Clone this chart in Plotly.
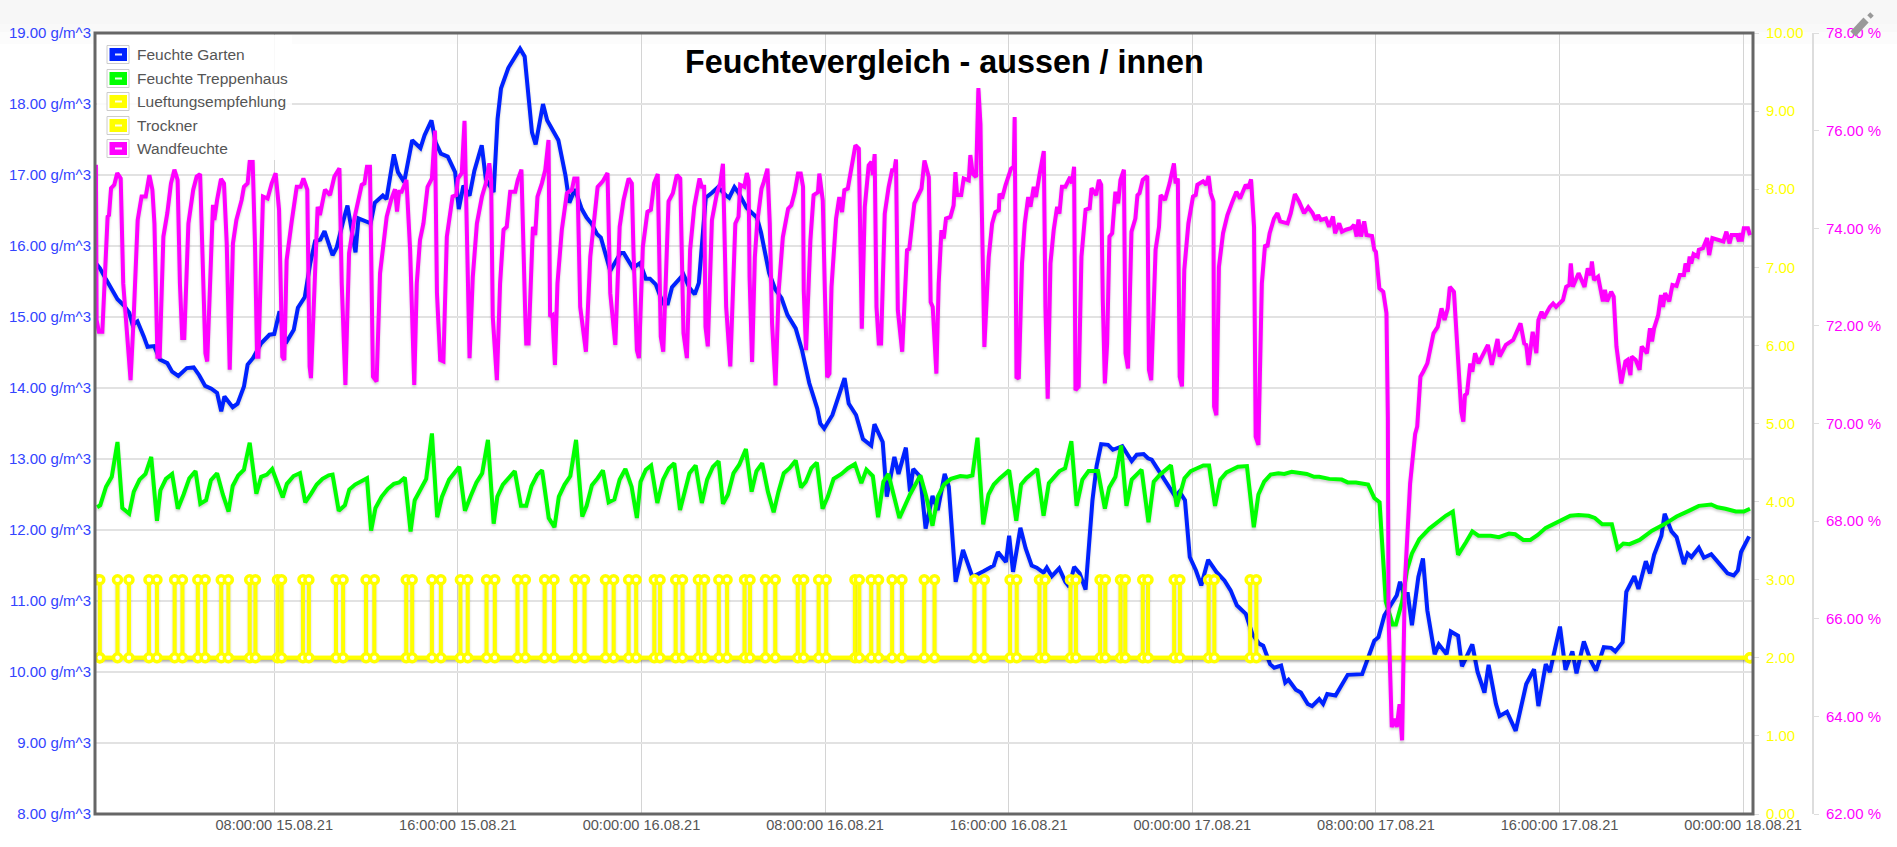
import pandas as pd
import plotly.graph_objects as go

# readings as (hours since 15.08.21 00:00, value)
garten = [(0.22,15.76),(0.4,15.69),(0.67,15.53),(0.88,15.42),(1.17,15.25),(1.43,15.17),(1.68,15.06),(1.83,14.89),(2.04,14.94),(2.31,14.73),(2.48,14.58),(2.77,14.59),(3.02,14.4),(3.34,14.35),(3.55,14.23),(3.82,14.17),(4.19,14.28),(4.49,14.29),(4.73,14.18),(4.99,14.03),(5.26,13.99),(5.51,13.93),(5.69,13.67),(5.83,13.88),(6.19,13.73),(6.4,13.78),(6.68,14.02),(6.84,14.33),(7.07,14.42),(7.43,14.63),(7.79,14.75),(8.0,14.76),(8.23,15.08),(8.5,14.63),(8.85,14.82),(9.03,15.13),(9.33,15.28),(9.57,15.76),(9.78,16.07),(10.01,16.09),(10.19,16.21),(10.54,15.87),(10.72,15.98),(10.99,16.33),(11.19,16.57),(11.54,15.91),(11.67,16.39),(12.2,16.32),(12.38,16.61),(12.73,16.71),(12.89,16.66),(13.21,17.29),(13.39,17.04),(13.66,16.9),(14.01,17.49),(14.37,17.38),(14.55,17.56),(14.85,17.77),(15.03,17.46),(15.26,17.3),(15.56,17.26),(15.88,17.04),(16.04,16.52),(16.24,16.85),(16.51,16.71),(16.72,17.06),(17.04,17.42),(17.22,16.94),(17.56,16.76),(17.73,17.79),(17.88,18.22),(18.2,18.51),(18.71,18.78),(18.91,18.67),(19.23,17.6),(19.39,17.43),(19.71,18.0),(19.89,17.77),(20.38,17.49),(20.69,16.99),(20.86,16.61),(21.1,16.8),(21.4,16.52),(21.61,16.4),(21.84,16.31),(22.06,16.17),(22.23,16.12),(22.64,15.65),(23.09,15.9),(23.23,15.9),(23.62,15.69),(23.94,15.76),
(24.05,15.65),(24.19,15.54),(24.37,15.54),(24.62,15.46),(24.94,15.19),(25.15,15.19),(25.33,15.42),(25.83,15.6),(26.09,15.41),(26.32,15.32),(26.5,15.48),(26.8,16.68),(27.07,16.75),(27.34,16.83),(27.69,16.71),(27.82,16.68),(28.05,16.83),(28.23,16.75),(28.58,16.54),(29.03,16.4),(29.21,16.19),(29.56,15.62),(29.83,15.39),(30.1,15.27),(30.36,15.03),(30.72,14.84),(30.99,14.54),(31.31,14.07),(31.66,13.71),(31.79,13.5),(31.96,13.43),(32.32,13.62),(32.85,14.14),(33.03,13.78),(33.35,13.62),(33.65,13.28),(34.01,13.19),(34.15,13.49),(34.51,13.24),(34.69,12.47),(35.02,13.03),(35.2,12.79),(35.52,13.16),(35.7,12.54),(35.84,12.86),(36.15,12.75),(36.38,12.02),(36.68,12.48),(36.91,12.28),(37.21,12.79),(37.39,12.61),(37.57,11.76),(37.69,11.27),(38.01,11.72),(38.42,11.34),(38.9,11.42),(39.35,11.5),(39.53,11.69),(39.88,11.55),(40.02,11.92),(40.19,11.41),(40.51,12.03),(40.74,11.74),(41.0,11.5),(41.22,11.47),(41.52,11.4),(41.66,11.47),(41.88,11.35),(42.2,11.46),(42.47,11.27),(42.64,11.2),(42.85,11.48),(43.09,11.39),(43.35,11.16),(43.65,12.42),(43.83,12.9),(44.03,13.21),(44.33,13.2),(44.54,13.13),(44.95,13.18),(45.13,13.08),(45.36,12.97),(45.58,13.06),(45.88,13.07),(46.07,13.01),(46.23,12.99),(46.55,12.83),(46.91,12.64),(47.26,12.47),(47.44,12.54),(47.68,12.42),(47.89,11.62),(48.16,11.43),(48.39,11.22),(48.69,11.58),(49.05,11.41),(49.4,11.29),(49.67,11.15),(49.94,10.94),(50.33,10.82),(50.61,10.54),(50.91,10.4),(51.09,10.37),(51.39,10.11),(51.57,10.06),(51.87,10.09),(52.05,9.85),(52.19,9.89),(52.51,9.75),(52.73,9.71),(53.03,9.55),(53.22,9.52),(53.53,9.62),(53.7,9.55),(53.88,9.69),(54.24,9.67),(54.77,9.96),(55.4,9.97),(55.61,10.16),(55.93,10.44),(56.11,10.49),(56.37,10.8),(56.91,11.08),(57.05,11.27),(57.21,11.1),(57.39,11.1),(57.57,10.66),(57.85,11.34),(58.05,11.6),(58.24,10.87),(58.56,10.25),(58.74,10.39),(59.08,10.25),(59.26,10.57),(59.58,10.51),(59.75,10.08),(60.2,10.39),(60.43,10.0),(60.73,9.71),(60.91,10.1),(61.23,9.55),(61.39,9.38),(61.71,9.44),(62.09,9.17),(62.55,9.83),(62.89,10.04),(63.08,9.52),(63.4,10.11),(63.58,10.0),(64.02,10.64),(64.26,10.03),(64.56,10.29),(64.74,9.98),(65.06,10.43),(65.36,10.16),(65.59,10.02),(65.93,10.35),(66.25,10.34),(66.43,10.29),(66.75,10.42),(66.91,11.13),(67.26,11.35),(67.44,11.17),(67.76,11.56),(67.94,11.39),(68.12,11.65),(68.44,11.92),(68.58,12.23),(68.88,11.98),(69.1,11.9),(69.42,11.52),(69.58,11.67),(69.75,11.62),(70.07,11.75),(70.29,11.61),(70.61,11.66),(71.14,11.46),(71.32,11.39),(71.59,11.36),(71.77,11.43),(71.91,11.69),(72.09,11.79),(72.26,11.91)]

treppenhaus = [(0.28,12.32),(0.42,12.35),(0.67,12.61),(0.92,12.75),(1.17,13.24),(1.38,12.31),(1.68,12.23),(1.88,12.54),(2.13,12.71),(2.39,12.79),(2.64,13.03),(2.89,12.13),(3.04,12.56),(3.28,12.72),(3.55,12.79),(3.8,12.3),(4.05,12.5),(4.3,12.73),(4.57,12.83),(4.78,12.37),(5.03,12.42),(5.24,12.7),(5.51,12.8),(5.76,12.5),(6.01,12.26),(6.19,12.62),(6.43,12.77),(6.68,12.85),(6.93,13.23),(7.22,12.51),(7.43,12.75),(7.68,12.78),(7.91,12.86),(8.37,12.46),(8.55,12.65),(8.84,12.76),(9.12,12.8),(9.35,12.39),(9.6,12.51),(9.85,12.64),(10.1,12.72),(10.37,12.77),(10.54,12.78),(10.81,12.27),(11.08,12.35),(11.27,12.57),(11.52,12.64),(11.79,12.68),(12.04,12.73),(12.22,11.99),(12.41,12.31),(12.68,12.47),(12.95,12.58),(13.21,12.65),(13.44,12.67),(13.69,12.74),(13.94,11.98),(14.12,12.42),(14.37,12.56),(14.62,12.72),(14.87,13.36),(15.1,12.18),(15.31,12.47),(15.62,12.71),(16.06,12.89),(16.31,12.27),(16.56,12.48),(16.81,12.67),(17.06,12.8),(17.31,13.27),(17.56,12.09),(17.72,12.47),(17.96,12.64),(18.23,12.75),(18.48,12.83),(18.75,12.34),(18.98,12.34),(19.21,12.62),(19.46,12.78),(19.67,12.84),(19.96,12.17),(20.21,12.04),(20.4,12.47),(20.65,12.64),(20.9,12.76),(21.15,13.27),(21.42,12.19),(21.61,12.34),(21.84,12.63),(22.09,12.73),(22.32,12.84),(22.57,12.39),(22.82,12.43),(23.05,12.71),(23.3,12.86),(23.57,12.61),(23.8,12.17),
(23.96,12.68),(24.19,12.85),(24.42,12.91),(24.69,12.38),(24.94,12.71),(25.19,12.87),(25.43,12.94),(25.68,12.28),(26.09,12.8),(26.36,12.91),(26.63,12.38),(26.86,12.71),(27.11,12.89),(27.36,12.97),(27.55,12.37),(27.77,12.5),(28.01,12.8),(28.26,12.92),(28.55,13.14),(28.8,12.54),(29.01,12.83),(29.26,12.94),(29.51,12.54),(29.76,12.25),(29.97,12.54),(30.2,12.8),(30.45,12.87),(30.72,12.98),(30.95,12.6),(31.16,12.68),(31.4,12.87),(31.64,12.95),(31.89,12.3),(32.12,12.47),(32.37,12.72),(32.71,12.79),(33.0,12.87),(33.3,12.93),(33.58,12.66),(33.8,12.85),(34.08,12.76),(34.31,12.18),(34.54,12.68),(34.76,12.79),(35.24,12.17),(35.7,12.5),(36.15,12.77),(36.41,12.47),(36.68,12.06),(36.91,12.47),(37.18,12.64),(37.48,12.72),(37.89,12.76),(38.19,12.75),(38.42,12.77),(38.64,13.3),(38.89,12.08),(39.12,12.5),(39.35,12.64),(39.62,12.73),(40.02,12.84),(40.33,12.13),(40.54,12.64),(40.77,12.73),(41.24,12.86),(41.52,12.2),(41.75,12.66),(41.98,12.75),(42.21,12.83),(42.46,12.87),(42.73,13.25),(42.96,12.34),(43.21,12.71),(43.48,12.83),(43.89,12.83),(44.19,12.3),(44.38,12.6),(44.65,12.75),(44.9,13.19),(45.13,12.34),(45.36,12.71),(45.79,12.85),(46.09,12.11),(46.32,12.68),(46.59,12.78),(47.07,12.91),(47.32,12.33),(47.66,12.73),(47.93,12.83),(48.21,12.87),(48.48,12.91),(48.73,12.91),(48.99,12.34),(49.22,12.71),(49.49,12.81),(49.99,12.89),(50.38,12.9),(50.68,12.04),(50.88,12.5),(51.13,12.68),(51.41,12.78),
(51.75,12.8),(52.01,12.79),(52.33,12.82),(52.64,12.8),(52.99,12.79),(53.31,12.75),(53.53,12.75),(53.97,12.72),(54.51,12.71),(54.77,12.67),(55.13,12.67),(55.66,12.64),(55.93,12.45),(56.16,12.39),(56.43,10.99),(56.73,10.67),(56.87,10.67),(57.14,10.99),(57.35,11.43),(57.57,11.67),(57.89,11.87),(58.33,12.02),(58.69,12.12),(59.04,12.2),(59.35,12.26),(59.58,11.65),(59.93,11.83),(60.2,11.98),(60.47,11.92),(61.0,11.92),(61.36,11.9),(61.8,11.95),(62.07,11.94),(62.42,11.86),(62.73,11.86),(63.05,11.93),(63.4,12.03),(63.67,12.07),(64.02,12.13),(64.47,12.2),(64.83,12.21),(65.27,12.2),(65.54,12.17),(65.86,12.08),(66.28,12.08),(66.53,11.74),(66.78,11.81),(67.05,11.8),(67.49,11.86),(68.03,11.99),(68.56,12.08),(69.1,12.19),(69.63,12.27),(70.07,12.34),(70.61,12.36),(70.88,12.32),(71.23,12.3),(71.68,12.26),(72.03,12.26),(72.3,12.3)]

wandfeuchte = [(0.23,75.3),(0.26,72.12),(0.36,71.88),(0.51,71.88),(0.74,74.24),(0.8,74.27),(0.89,74.82),(1.03,74.89),(1.16,75.13),(1.31,75.02),(1.42,72.87),(1.61,71.64),(1.74,70.89),(1.87,72.12),(2.05,74.17),(2.22,74.65),(2.4,74.65),(2.56,75.09),(2.69,74.79),(2.78,74.1),(2.91,71.37),(3.01,71.37),(3.17,73.83),(3.34,74.31),(3.5,74.92),(3.65,75.2),(3.79,74.99),(3.89,72.87),(3.99,71.75),(4.08,71.75),(4.26,74.1),(4.47,74.79),(4.62,75.06),(4.77,75.11),(4.87,73.56),(5.0,71.44),(5.08,71.27),(5.24,73.56),(5.33,74.48),(5.39,74.17),(5.51,74.58),(5.68,75.01),(5.81,74.92),(5.93,73.69),(6.06,71.1),(6.2,73.69),(6.35,74.17),(6.58,74.58),(6.68,74.85),(6.84,74.92),(6.93,75.37),(7.06,75.37),(7.16,73.69),(7.25,71.37),(7.31,71.37),(7.51,74.65),(7.71,74.61),(7.89,74.92),(8.06,75.13),(8.21,74.38),(8.35,71.37),(8.44,71.3),(8.54,73.35),(8.76,74.14),(8.98,74.85),(9.15,74.85),(9.27,75.02),(9.44,74.79),(9.54,71.17),(9.6,70.93),(9.78,73.49),(9.89,74.44),(9.99,74.27),(10.21,74.79),(10.43,74.68),(10.62,75.06),(10.84,75.23),(10.94,72.87),(11.1,70.79),(11.26,73.49),(11.49,74.2),(11.66,74.58),(11.81,74.89),(11.93,74.92),(12.04,75.26),(12.17,75.26),(12.3,70.96),(12.46,70.86),(12.61,73.08),(12.9,74.24),(13.09,74.58),(13.26,74.8),(13.35,74.34),(13.44,74.75),(13.55,74.75),(13.76,74.99),(13.92,73.56),(14.1,70.79),(14.21,72.87),(14.35,73.76),(14.5,74.1),
(14.68,74.85),(14.87,75.02),(15.0,76.0),(15.09,72.67),(15.23,71.3),(15.37,71.27),(15.52,73.83),(15.67,74.31),(15.77,74.65),(15.93,74.68),(16.0,75.02),(16.17,75.13),(16.29,76.2),(16.51,71.34),(16.65,73.0),(16.83,74.1),(17.05,74.65),(17.22,74.92),(17.37,75.33),(17.45,74.99),(17.52,72.19),(17.7,70.89),(17.84,72.87),(17.99,73.97),(18.13,74.03),(18.28,74.75),(18.5,74.75),(18.61,74.99),(18.77,75.2),(18.93,72.33),(18.98,71.64),(19.08,71.64),(19.27,74.03),(19.37,73.86),(19.47,74.65),(19.66,74.92),(19.81,75.2),(19.95,75.81),(20.02,72.19),(20.12,72.22),(20.23,71.2),(20.34,72.87),(20.53,73.97),(20.75,74.72),(20.97,74.79),(21.07,75.02),(21.21,75.02),(21.33,72.39),(21.58,71.47),(21.77,73.42),(21.94,74.24),(22.09,74.85),(22.31,74.96),(22.52,75.13),(22.64,72.67),(22.86,71.61),(23.05,74.03),(23.22,74.58),(23.44,75.02),(23.58,74.92),(23.65,73.56),(23.8,71.5),(23.89,71.34),(24.06,73.62),(24.26,74.34),(24.41,74.38),(24.55,74.92),(24.71,75.11),(24.84,71.78),(24.95,71.47),(25.18,74.55),(25.37,74.72),(25.54,75.09),(25.69,75.02),(25.83,71.85),(25.98,71.34),(26.12,73.56),(26.3,74.44),(26.53,75.02),(26.63,74.85),(26.73,74.85),(26.79,71.98),(26.89,71.58),(27.07,74.17),(27.29,74.72),(27.43,74.92),(27.55,75.32),(27.69,72.39),(27.87,71.17),(28.09,74.1),(28.23,74.24),(28.3,74.89),(28.48,74.85),(28.59,75.13),
(28.67,74.98),(28.71,73.0),(28.82,71.26),(28.94,73.41),(29.04,74.1),(29.23,74.81),(29.33,74.95),(29.49,75.22),(29.59,74.1),(29.69,72.05),(29.84,70.78),(29.98,72.73),(30.16,73.82),(30.39,74.4),(30.53,74.47),(30.68,74.74),(30.82,75.12),(30.94,75.12),(31.04,74.85),(31.07,72.73),(31.17,71.5),(31.36,73.75),(31.5,74.68),(31.69,74.74),(31.75,75.12),(31.9,74.57),(31.99,72.73),(32.09,70.95),(32.19,71.02),(32.28,72.8),(32.48,74.2),(32.62,74.64),(32.74,74.33),(32.84,74.78),(32.99,74.81),(33.18,75.29),(33.32,75.7),(33.47,75.63),(33.54,74.1),(33.6,71.94),(33.73,74.44),(33.9,75.29),(34.02,75.36),(34.08,75.09),(34.16,75.52),(34.24,72.39),(34.34,71.64),(34.44,71.64),(34.6,74.3),(34.77,74.85),(34.92,75.19),(35.02,75.19),(35.09,75.41),(35.17,72.32),(35.36,71.47),(35.57,73.55),(35.67,73.58),(35.89,74.51),(36.2,74.81),(36.33,75.39),(36.52,75.05),(36.6,72.49),(36.69,72.39),(36.85,71.02),(36.95,72.87),(37.07,73.96),(37.17,73.79),(37.27,74.2),(37.46,74.23),(37.6,74.47),(37.68,75.15),(37.75,74.68),(37.93,74.68),(38.04,75.02),(38.26,74.98),(38.33,75.5),(38.43,75.12),(38.58,75.05),(38.68,76.87),(38.77,76.14),(38.8,75.12),(38.94,71.57),(39.13,73.41),(39.28,74.1),(39.42,74.33),(39.57,74.37),(39.6,74.71),(39.71,74.61),(39.86,74.88),(40.1,75.22),(40.22,75.26),(40.26,76.28),(40.34,70.95),(40.44,70.92),(40.58,73.28),(40.7,74.1),(40.85,74.64),(40.95,74.44),(41.09,74.85),(41.19,74.64),(41.34,75.09),(41.53,75.58),(41.6,72.39),(41.7,70.51),(41.82,73.28),(41.96,73.96),(42.11,74.44),(42.21,74.3),(42.32,74.85),(42.47,74.85),(42.68,75.05),(42.76,74.92),(42.85,75.26),(42.91,70.68),
(43.05,70.76),(43.17,73.42),(43.35,74.38),(43.53,74.41),(43.61,74.82),(43.81,74.68),(43.93,74.99),(44.03,74.89),(44.1,72.53),(44.19,70.82),(44.29,71.64),(44.39,73.83),(44.51,73.9),(44.65,74.75),(44.77,74.51),(44.87,74.99),(45.02,75.2),(45.09,71.44),(45.2,71.13),(45.35,73.93),(45.52,74.2),(45.61,74.68),(45.7,74.72),(45.84,74.99),(46.04,75.07),(46.11,71.1),(46.21,70.89),(46.4,73.56),(46.55,74.03),(46.62,74.68),(46.81,74.58),(47.01,74.92),(47.2,75.33),(47.27,74.92),(47.37,75.02),(47.45,70.96),(47.55,70.76),(47.65,73.15),(47.83,74.1),(48.03,74.65),(48.15,74.68),(48.22,74.89),(48.47,74.96),(48.61,74.89),(48.71,75.07),(48.8,74.72),(48.92,74.55),(48.95,70.35),(49.05,70.17),(49.16,73.21),(49.34,73.9),(49.53,74.27),(49.75,74.55),(49.92,74.75),(50.08,74.61),(50.33,74.89),(50.44,74.82),(50.56,75.0),(50.69,74.03),(50.76,69.73),(50.88,69.56),(51.03,72.87),(51.17,73.66),(51.27,73.62),(51.37,73.9),(51.56,74.2),(51.71,74.31),(51.83,74.14),(52.15,74.1),(52.29,74.31),(52.47,74.7),(52.65,74.55),(52.87,74.31),(53.05,74.43),(53.24,74.31),(53.38,74.17),(53.48,74.27),(53.6,74.17),(53.82,74.2),(53.96,74.03),(54.13,74.24),(54.22,73.9),(54.4,74.1),(54.52,73.93),(54.69,73.97),(54.91,74.0),(55.05,74.07),(55.16,73.83),(55.24,74.18),(55.35,73.83),(55.49,74.14),(55.59,73.86),(55.83,73.84),(55.93,73.56),(56.0,73.52),(56.15,72.77),(56.32,72.7),(56.46,72.26),(56.52,70.13),(56.55,66.04),(56.69,63.78),(56.82,63.95),(56.91,63.78),(57.03,64.25),(57.14,63.51),(57.26,66.72),(57.49,68.77),(57.71,69.79),(57.8,69.94),(57.94,70.96),(58.06,71.06),(58.24,71.23),(58.51,71.85),(58.69,71.98),(58.86,72.36),(58.99,72.12),(59.13,72.36),(59.22,72.8),(59.4,72.7),(59.61,71.17),(59.72,70.24),(59.81,70.04),(59.88,70.58),(59.97,70.62),(60.11,71.23),(60.2,71.06),(60.32,71.44),(60.47,71.23),(60.88,71.61),(61.05,71.2),(61.3,71.73),(61.39,71.37),(61.66,71.61),(61.98,71.71),(62.3,72.05),(62.46,71.64),(62.55,71.61),(62.65,71.2),(62.83,71.88),(62.99,71.44),(63.08,72.12),(63.22,72.29),(63.31,72.16),(63.58,72.39),(63.72,72.46),(63.85,72.39),(64.15,72.53),(64.29,72.8),(64.43,72.84),(64.49,73.28),(64.58,72.8),(64.83,73.08),(65.09,72.8),(65.23,73.18),(65.36,73.04),(65.41,73.32),(65.5,72.94),(65.68,73.01),(65.8,72.74),(65.89,72.5),(65.98,72.74),(66.07,72.5),(66.25,72.7),(66.36,72.6),(66.48,71.58),(66.64,70.89),(66.69,70.82),(66.87,71.27),(66.96,71.3),(67.09,70.99),(67.14,71.37),(67.32,71.3),(67.49,71.1),(67.58,71.58),(67.81,71.44),(67.94,71.95),(68.03,71.68),(68.12,71.95),(68.3,72.22),(68.42,72.63),(68.51,72.39),(68.6,72.67),(68.78,72.5),(68.92,72.84),(69.1,72.82),(69.24,73.04),(69.42,73.04),(69.49,73.28),(69.59,73.11),(69.67,73.42),(69.74,73.28),(69.84,73.47),(70.02,73.42),(70.07,73.56),(70.25,73.59),(70.43,73.8),(70.52,73.45),(70.66,73.8),(70.88,73.77),(71.14,73.73),(71.27,73.93),(71.41,73.69),(71.5,73.86),(71.73,73.86),(71.82,73.73),(71.89,73.9),(71.94,73.73),(72.03,74.0),(72.21,74.0),(72.3,73.86)]

trockner_ein = [0.28,1.17,2.54,3.66,4.67,5.69,6.93,8.14,9.25,10.69,12.0,13.75,14.87,16.11,17.25,18.6,19.78,21.11,22.43,23.44,24.56,25.49,26.48,27.37,28.49,29.4,30.81,31.72,33.3,34.01,34.92,36.32,38.51,40.06,41.34,42.69,43.98,44.87,45.84,47.21,48.71,50.52]
trockner_aus = [0.4,1.67,2.89,4.0,4.99,6.0,7.18,8.32,9.51,11.0,12.36,14.01,15.26,16.43,17.61,18.94,20.19,21.52,22.79,23.77,24.81,25.79,26.75,27.73,28.73,29.83,31.07,32.05,33.49,34.33,35.35,36.77,38.94,40.35,41.59,42.93,44.21,45.08,46.07,47.46,48.96,50.79]
trockner_an, trockner_ruhe = 3, 2
lueftung_ende = 72.3
lueftung_wert = 2

namen = ["Feuchte Garten", "Feuchte Treppenhaus", "Lueftungsempfehlung", "Trockner", "Wandfeuchte"]
farben = ["#0022ff", "#00ff00", "#ffff00", "#ffff00", "#ff00ff"]
titel = "Feuchtevergleich - aussen / innen"
y1_ticks = [8, 9, 10, 11, 12, 13, 14, 15, 16, 17, 18, 19]
y2_ticks = [0, 1, 2, 3, 4, 5, 6, 7, 8, 9, 10]
y3_ticks = [62, 64, 66, 68, 70, 72, 74, 76, 78]

BASE = pd.Timestamp("2021-08-15")
def zeit(hours):
    return [None if h is None else BASE + pd.Timedelta(hours=h) for h in hours]

W, H = 1897, 847
L, R, T, B = 95, 1753, 33, 814
def px(x): return x / W
def py(y): return 1 - y / H

# Trockner: the tops of each pulse are not joined
tr_t, tr_v = [], []
for a, b in zip(trockner_ein, trockner_aus):
    tr_t += [a, a, None, b, b]
    tr_v += [trockner_ruhe, trockner_an, None, trockner_an, trockner_ruhe]
tr_t = tr_t[1:] + [lueftung_ende]
tr_v = tr_v[1:] + [trockner_ruhe]

fig = go.Figure()
LW = 4
def serie(pairs, i, axis):
    hs, vs = zip(*pairs)
    fig.add_trace(go.Scatter(x=zeit(hs), y=vs, name=namen[i], yaxis=axis, mode="lines",
                             line=dict(color=farben[i], width=LW), showlegend=False))
serie(garten, 0, "y")
serie(treppenhaus, 1, "y")
mk = dict(symbol="circle", size=8, color="white", line=dict(color="#ffff00", width=3.5))
fig.add_trace(go.Scatter(x=zeit([trockner_aus[0], lueftung_ende]), y=[lueftung_wert, lueftung_wert], name=namen[2], yaxis="y2",
                         mode="lines+markers", line=dict(color=farben[2], width=LW), marker=mk, showlegend=False))
fig.add_trace(go.Scatter(x=zeit(tr_t), y=tr_v, name=namen[3], yaxis="y2", mode="lines+markers",
                         line=dict(color=farben[3], width=LW), marker=mk, showlegend=False, connectgaps=False))
serie(wandfeuchte, 4, "y3")

shapes = []
# page header tint
for y0, y1, c in [(0, 24, "#f7f7f7"), (24, 32, "#f9f9f9"), (32, 44, "#fcfcfc")]:
    shapes.append(dict(type="rect", xref="paper", yref="paper", x0=px(0), x1=px(W), y0=py(y0), y1=py(y1),
                       fillcolor=c, line_width=0, layer="below"))
# legend block
shapes.append(dict(type="rect", xref="paper", yref="paper", x0=px(97), x1=px(292), y0=py(35), y1=py(160),
                   fillcolor="rgba(255,255,255,0.85)", line_width=0, layer="above"))
ann = []
for i, (nm, col) in enumerate(zip(namen, farben)):
    cy = [54.5, 78.5, 101.5, 125.5, 148.5][i]
    shapes.append(dict(type="rect", xref="paper", yref="paper", x0=px(107), x1=px(129), y0=py(cy-9), y1=py(cy+9),
                       fillcolor="white", line=dict(color="#cccccc", width=1), layer="above"))
    shapes.append(dict(type="rect", xref="paper", yref="paper", x0=px(109.5), x1=px(127), y0=py(cy-6.5), y1=py(cy+6.5),
                       fillcolor=col, line_width=0, layer="above"))
    shapes.append(dict(type="rect", xref="paper", yref="paper", x0=px(115), x1=px(122), y0=py(cy-1), y1=py(cy+1),
                       fillcolor="white", opacity=0.9, line_width=0, layer="above"))
    ann.append(dict(text=nm, xref="paper", yref="paper", x=px(135), y=py(cy), xanchor="left", yanchor="middle",
                    showarrow=False, font=dict(family="Liberation Sans", size=15.5, color="#555555")))
ann.append(dict(text=f"<b>{titel}</b>", xref="paper", yref="paper", x=px(944), y=py(62), xanchor="center", yanchor="middle",
                showarrow=False, font=dict(family="Liberation Sans", size=32.3, color="#000000")))
# pencil icon
shapes.append(dict(type="line", xref="paper", yref="paper", x0=px(1853), y0=py(34), x1=px(1866), y1=py(20),
                   line=dict(color="#999999", width=7), layer="above"))
shapes.append(dict(type="line", xref="paper", yref="paper", x0=px(1869), y0=py(17), x1=px(1872), y1=py(14),
                   line=dict(color="#999999", width=5), layer="above"))
# frame
shapes.append(dict(type="rect", xref="paper", yref="paper", x0=px(L), x1=px(R), y0=py(B), y1=py(T),
                   line=dict(color="#666666", width=3), layer="above"))

tf = "Liberation Sans"
fig.update_layout(
    width=W, height=H, margin=dict(l=0, r=0, t=0, b=0), autosize=False,
    paper_bgcolor="white", plot_bgcolor="rgba(0,0,0,0)", showlegend=False,
    font=dict(family=tf), shapes=shapes, annotations=ann,
    xaxis=dict(domain=[L / W, R / W], type="date", range=["2021-08-15 00:11:24", "2021-08-18 00:25:48"],
               tick0="2021-08-15", dtick=8 * 3600 * 1000, tickformat="%H:%M:%S %d.%m.%y",
               showgrid=True, gridcolor="#d4d4d4", gridwidth=1, zeroline=False, ticks="",
               tickfont=dict(family=tf, size=14.6, color="#555555"), showline=False, automargin=False),
    yaxis=dict(domain=[1 - B / H, 1 - T / H], range=[8, 19], tickmode="array", tickvals=y1_ticks,
               ticktext=[f"{v:.2f} g/m^3" for v in y1_ticks], tickfont=dict(family=tf, size=15, color="#3344ff"),
               showgrid=True, gridcolor="#e2e2e2", gridwidth=1.5, zeroline=False, ticks="", showline=False, side="left",
               ticklabelstandoff=3, automargin=False),
    yaxis2=dict(overlaying="y", side="right", anchor="x", range=[0, 10], tickmode="array", tickvals=y2_ticks,
                ticktext=[f"{v:.2f}" for v in y2_ticks], tickfont=dict(family=tf, size=15, color="#ffff00"), showgrid=False, zeroline=False,
                ticks="outside", ticklen=5, tickcolor="#dddddd", showline=False, ticklabelstandoff=4, automargin=False),
    yaxis3=dict(overlaying="y", side="right", anchor="free", position=1813 / W, range=[62, 78], tickmode="array",
                tickvals=y3_ticks, ticktext=[f"{v:.2f} %" for v in y3_ticks], tickfont=dict(family=tf, size=15, color="#ff00ff"),
                showgrid=False, zeroline=False, ticks="outside", ticklen=5, tickcolor="#dddddd",
                showline=True, linecolor="#dddddd", linewidth=2, ticklabelstandoff=4, automargin=False),
)

post = """
document.body.style.margin='0';
var s=document.createElement('style');
s.textContent='.scatterlayer .trace path.js-line{filter:drop-shadow(0 2px 1px rgba(0,0,0,0.18));}';
document.head.appendChild(s);
"""
fig.write_html("out.html", post_script=post, config=dict(displayModeBar=False))
